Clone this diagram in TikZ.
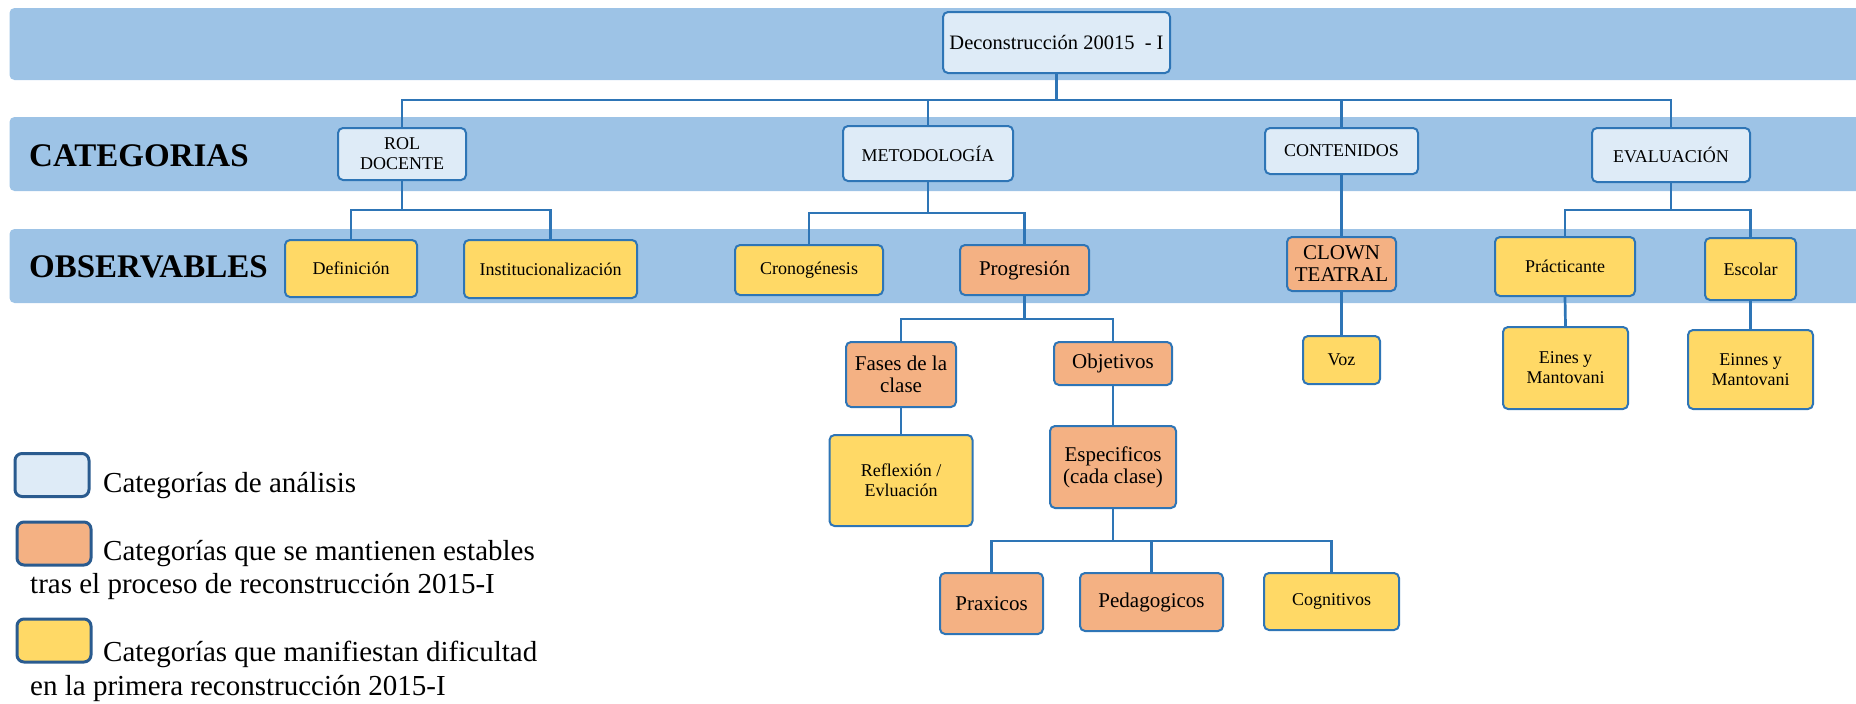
\documentclass[tikz,border=0pt]{standalone}
\usepackage{fontspec}
\setmainfont{Liberation Serif}
\definecolor{bandc}{HTML}{9DC3E6}
\definecolor{catfill}{HTML}{DEEBF7}
\definecolor{orangefill}{HTML}{F4B183}
\definecolor{yellowfill}{HTML}{FFD966}
\definecolor{edgec}{HTML}{2E75B6}
\definecolor{legborder}{HTML}{2A5B8F}
\begin{document}
\begin{tikzpicture}[x=1pt,y=-1pt,
 base/.style={draw=edgec, line width=2pt, rounded corners=5pt, align=center, inner sep=0pt, text=black},
 catbox/.style={base, fill=catfill, font=\fontsize{18}{20}\selectfont},
 yel/.style={base, fill=yellowfill, font=\fontsize{18}{20}\selectfont},
 ora/.style={base, fill=orangefill, font=\fontsize{21}{22}\selectfont},
 conn/.style={draw=edgec, line width=2.7pt},
 bandbox/.style={fill=bandc, rounded corners=5pt},
 heading/.style={font=\fontsize{33}{35}\selectfont\bfseries, anchor=west, inner sep=0pt},
 legbox/.style={draw=legborder, line width=3pt, rounded corners=7pt, minimum width=74pt, minimum height=43pt, inner sep=0pt},
 legtext/.style={font=\fontsize{29}{33}\selectfont, anchor=base west, inner sep=0pt}]

\useasboundingbox (0,0) rectangle (1856,704);

% bands
\fill[bandbox] (9.5,8) rectangle (1872,80);
\fill[bandbox] (9.5,117) rectangle (1872,191);
\fill[bandbox] (9.5,229) rectangle (1872,303);

% headings
\node[heading] (hcat) at (29,156) {CATEGORIAS};
\node[heading] (hobs) at (29,267) {OBSERVABLES};

% nodes
\node[catbox, font=\fontsize{20.5}{22}\selectfont, minimum width=227pt, minimum height=61pt] (top) at (1056.5,42.5) {Deconstrucción 20015\ \ - I};

\node[catbox, minimum width=128pt, minimum height=52pt] (rol) at (402,154) {ROL\\DOCENTE};
\node[catbox, minimum width=170pt, minimum height=55pt] (met) at (928,153.5) {METODOLOGÍA};
\node[catbox, minimum width=153pt, minimum height=46pt] (con) at (1341.5,151) {CONTENIDOS};
\node[catbox, minimum width=158pt, minimum height=54pt] (eva) at (1671,155) {EVALUACIÓN};

\node[yel, minimum width=132pt, minimum height=57pt] (def) at (351,268.5) {Definición};
\node[yel, minimum width=173pt, minimum height=58pt] (ins) at (550.5,269) {Institucionalización};
\node[yel, minimum width=148pt, minimum height=50pt] (cro) at (809,270) {Cronogénesis};
\node[ora, minimum width=129pt, minimum height=50pt] (pro) at (1024.5,270) {Progresión};
\node[ora, minimum width=109pt, minimum height=54pt] (clo) at (1341.5,264) {CLOWN\\TEATRAL};
\node[yel, minimum width=140pt, minimum height=59pt] (pra) at (1565,266.5) {Prácticante};
\node[yel, minimum width=91pt, minimum height=62pt] (esc) at (1750.5,269) {Escolar};

\node[yel, minimum width=77pt, minimum height=48pt] (voz) at (1341.5,360) {Voz};
\node[yel, minimum width=125pt, minimum height=82pt] (ein1) at (1565.5,368) {Eines y\\Mantovani};
\node[yel, minimum width=125pt, minimum height=79pt] (ein2) at (1750.5,369.5) {Einnes y\\Mantovani};

\node[ora, minimum width=110pt, minimum height=65pt] (fas) at (901,374.5) {Fases de la\\clase};
\node[ora, minimum width=118pt, minimum height=43pt] (obj) at (1113,363.5) {Objetivos};
\node[yel, minimum width=143pt, minimum height=91pt] (ref) at (901,480.5) {Reflexión /\\Evluación};
\node[ora, minimum width=126pt, minimum height=82pt] (esp) at (1113,467) {Especificos\\(cada clase)};

\node[ora, minimum width=103pt, minimum height=61pt] (prx) at (991.5,603.5) {Praxicos};
\node[ora, minimum width=143pt, minimum height=58pt] (ped) at (1151.5,602) {Pedagogicos};
\node[yel, minimum width=135pt, minimum height=57pt] (cog) at (1331.5,601.5) {Cognitivos};

% connectors
\coordinate (b1) at (1056.5,100);
\draw[conn] (top.south) -- (b1);
\foreach \n in {rol,met,con,eva} \draw[conn] (b1) -| (\n.north);

\coordinate (b2) at (402,210);
\draw[conn] (rol.south) -- (b2);
\foreach \n in {def,ins} \draw[conn] (b2) -| (\n.north);

\coordinate (b3) at (928,213);
\draw[conn] (met.south) -- (b3);
\foreach \n in {cro,pro} \draw[conn] (b3) -| (\n.north);

\draw[conn] (con.south) -- (clo.north);

\coordinate (b4) at (1671,210);
\draw[conn] (eva.south) -- (b4);
\foreach \n in {pra,esc} \draw[conn] (b4) -| (\n.north);

\coordinate (b5) at (1024.5,319);
\draw[conn] (pro.south) -- (b5);
\foreach \n in {fas,obj} \draw[conn] (b5) -| (\n.north);

\draw[conn] (clo.south) -- (voz.north);
\draw[conn] (pra.south) -- (ein1.north);
\draw[conn] (esc.south) -- (ein2.north);
\draw[conn] (fas.south) -- (ref.north);
\draw[conn] (obj.south) -- (esp.north);

\coordinate (b6) at (1113,541);
\draw[conn] (esp.south) -- (b6);
\foreach \n in {prx,ped,cog} \draw[conn] (b6) -| (\n.north);

% legend
\node[legbox, fill=catfill] (l1) at (52,475) {};
\node[legbox, fill=orangefill] (l2) at (54,543.5) {};
\node[legbox, fill=yellowfill] (l3) at (54,640.5) {};
\node[legtext] (t1) at (103,492) {Categorías de análisis};
\node[legtext] (t2a) at (103,560) {Categorías que se mantienen estables};
\node[legtext] (t2b) at (30,593) {tras el proceso de reconstrucción 2015-I};
\node[legtext] (t3a) at (103,661) {Categorías que manifiestan dificultad};
\node[legtext] (t3b) at (30,695) {en la primera reconstrucción 2015-I};
\end{tikzpicture}
\end{document}
